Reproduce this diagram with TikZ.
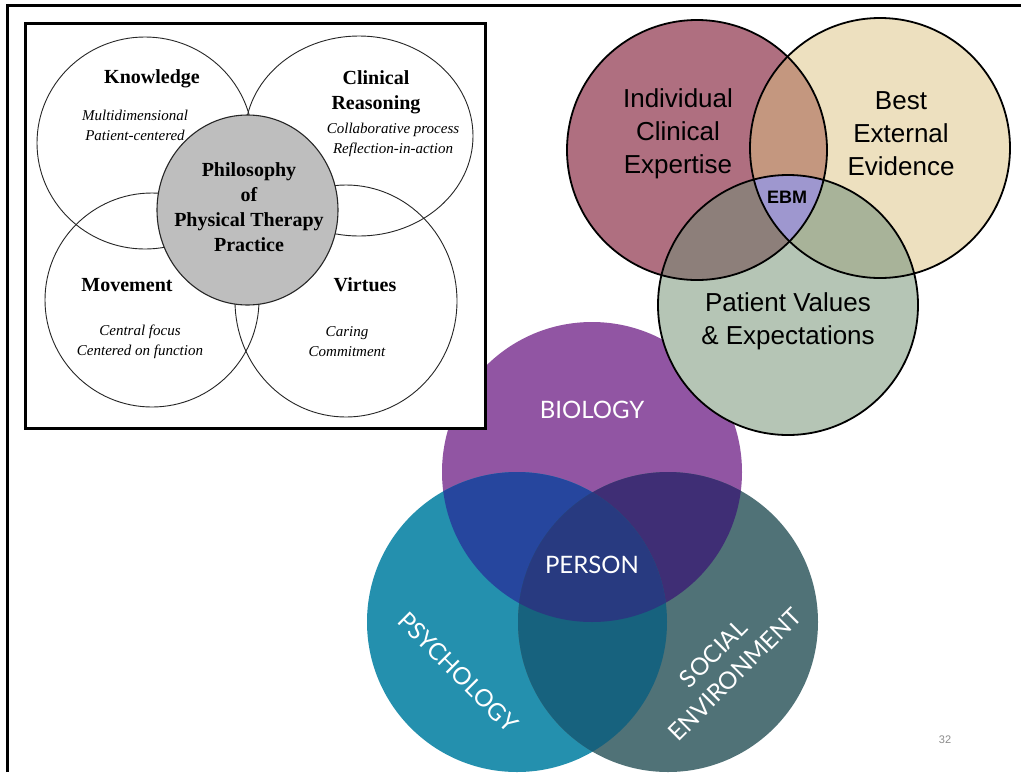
\documentclass[tikz,border=0pt]{standalone}
\usepackage{fontspec}
\setmainfont{Liberation Serif}
\newfontfamily\arialf{Liberation Sans}
\newfontfamily\latof{Lato}
\definecolor{maroon}{RGB}{175,111,128}
\definecolor{cream}{RGB}{237,224,191}
\definecolor{sage}{RGB}{181,197,181}
\definecolor{mc}{RGB}{196,151,127}
\definecolor{ms}{RGB}{141,127,122}
\definecolor{cs}{RGB}{168,179,153}
\definecolor{ebm}{RGB}{158,151,207}
\definecolor{bio}{RGB}{145,85,163}
\definecolor{psy}{RGB}{36,144,174}
\definecolor{soc}{RGB}{80,114,119}
\definecolor{bp}{RGB}{38,70,158}
\definecolor{bs}{RGB}{63,46,117}
\definecolor{ps}{RGB}{23,98,126}
\definecolor{bps}{RGB}{40,58,128}
\definecolor{philgray}{RGB}{190,190,190}
\tikzset{
  boxhead/.style={font=\fontsize{20}{25}\selectfont\bfseries, align=center, inner sep=0pt},
  boxsub/.style={font=\fontsize{15}{20}\selectfont\itshape, align=center, inner sep=0pt},
  ringline/.style={draw=black!85, line width=0.9pt},
  ebmtext/.style={font=\arialf\fontsize{26}{33}\selectfont, align=center, inner sep=0pt},
  bpstext/.style={font=\latof\fontsize{24}{30}\selectfont, text=white, align=center, inner sep=0pt},
}
\begin{document}
\begin{tikzpicture}[x=1pt,y=-1pt]
\useasboundingbox (0,0) rectangle (1021,772);
\fill[white] (0,0) rectangle (1021,772);
% page frame
\coordinate (fl) at (7.5,772);
\coordinate (ftl) at (7.5,5.5);
\coordinate (fr) at (1021,5.5);
\draw[line width=2.5pt] (fl) -- (ftl) -- (fr);

% ---------- bio-psycho-social venn ----------
\coordinate (cb) at (592,472);
\coordinate (cp) at (517,622);
\coordinate (cs) at (668,622);
\fill[bio] (cb) circle (150pt);
\fill[psy] (cp) circle (150pt);
\fill[soc] (cs) circle (150pt);
\begin{scope}\clip (cb) circle (150pt); \fill[bp] (cp) circle (150pt); \end{scope}
\begin{scope}\clip (cb) circle (150pt); \fill[bs] (cs) circle (150pt); \end{scope}
\begin{scope}\clip (cp) circle (150pt); \fill[ps] (cs) circle (150pt); \end{scope}
\begin{scope}\clip (cb) circle (150pt); \clip (cp) circle (150pt); \fill[bps] (cs) circle (150pt); \end{scope}
\node[bpstext] (biology) at (592,410) {BIOLOGY};
\node[bpstext] (person) at (592,565) {PERSON};
\node[bpstext, rotate=-45] (psychology) at (458,672) {PSYCHOLOGY};
\node[bpstext, rotate=45] (social) at (724,664) {SOCIAL\\ENVIRONMENT};

% ---------- Philosophy box ----------
\node[draw, line width=3pt, fill=white, minimum width=460pt, minimum height=405pt, inner sep=0pt] (box) at (255.5,226) {};
\draw[ringline] (145,143) ellipse [x radius=108pt, y radius=106pt];
\draw[ringline] (359,136) ellipse [x radius=114pt, y radius=100pt];
\draw[ringline] (152,300) ellipse [x radius=107pt, y radius=107pt];
\draw[ringline] (346,301) ellipse [x radius=111pt, y radius=116pt];
\draw[draw=black!85, line width=1.1pt, fill=philgray] (247.5,210) ellipse [x radius=90.5pt, y radius=95pt];
\node[boxhead] (know) at (152,79) {Knowledge};
\node[boxsub] (knowsub) at (135,125) {Multidimensional\\Patient-centered};
\node[boxhead] (clin) at (376,92) {Clinical\\Reasoning};
\node[boxsub] (clinsub) at (393,140) {Collaborative process\\Reflection-in-action};
\node[boxhead] (phil) at (249,207) {Philosophy\\of\\Physical Therapy\\Practice};
\node[boxhead] (move) at (127,285) {Movement};
\node[boxsub] (movesub) at (140,342) {Central focus\\Centered on function};
\node[boxhead] (virt) at (365,285) {Virtues};
\node[boxsub] (virtsub) at (347,342) {Caring\\Commitment};

% ---------- EBM venn ----------
\coordinate (ce) at (697,150);
\coordinate (cx) at (880,148);
\coordinate (cv) at (788,305);
\fill[maroon] (ce) circle (130pt);
\fill[cream] (cx) circle (130pt);
\fill[sage] (cv) circle (130pt);
\begin{scope}\clip (ce) circle (130pt); \fill[mc] (cx) circle (130pt); \end{scope}
\begin{scope}\clip (ce) circle (130pt); \fill[ms] (cv) circle (130pt); \end{scope}
\begin{scope}\clip (cx) circle (130pt); \fill[cs] (cv) circle (130pt); \end{scope}
\begin{scope}\clip (ce) circle (130pt); \clip (cx) circle (130pt); \fill[ebm] (cv) circle (130pt); \end{scope}
\draw[line width=1.8pt] (ce) circle (130pt);
\draw[line width=1.8pt] (cx) circle (130pt);
\draw[line width=1.8pt] (cv) circle (130pt);
\node[ebmtext] (ice) at (678,134) {Individual\\Clinical\\Expertise};
\node[ebmtext] (bee) at (901,134) {Best\\External\\Evidence};
\node[ebmtext] (pve) at (788,321) {Patient Values\\\& Expectations};
\node[font=\arialf\fontsize{18}{20}\selectfont\bfseries, inner sep=0pt] (ebmlabel) at (787,197) {EBM};

% page number
\node[font=\arialf\fontsize{11}{12}\selectfont, text=black!45, inner sep=0pt] (pnum) at (945,740) {32};
\end{tikzpicture}
\end{document}
